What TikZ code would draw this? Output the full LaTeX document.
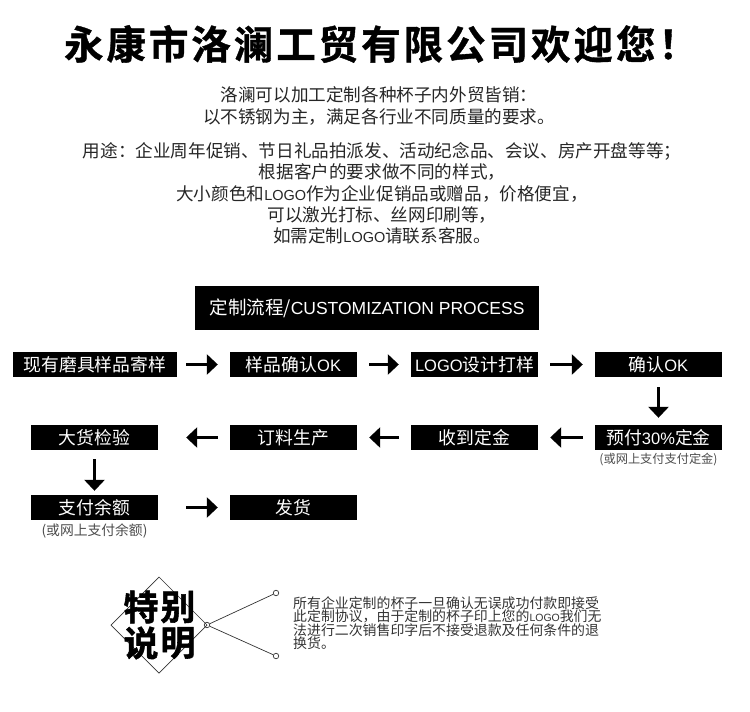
\documentclass[tikz,border=0pt]{standalone}
\usepackage{fontspec}
\setmainfont{Liberation Sans}
\newfontfamily\cjk{Noto Sans CJK SC}
\newfontfamily\cjktitle[LetterSpace=7.5,FakeBold=1]{Noto Sans CJK SC Bold}
\newfontfamily\cjkheavy[FakeBold=1.5]{Noto Sans CJK SC Bold}
\newfontfamily\lat{Liberation Sans}
\newcommand{\bodylat}[1]{{\lat\fontsize{14.5}{21}\selectfont #1}}
\newcommand{\boxlat}[1]{{\lat\fontsize{16.5}{17}\selectfont #1}}
\usetikzlibrary{arrows.meta}
\tikzset{
  stepbox/.style={fill=black,text=white,minimum height=25pt,inner sep=0pt,font=\cjk\fontsize{17.8}{17.8}\selectfont},
  bodytext/.style={text=black!85,inner sep=0pt,font=\cjk\fontsize{17.6}{21.2}\selectfont,align=center},
  notetext/.style={text=black!70,inner sep=0pt},
  flow/.style={line width=3pt,-{Triangle[length=11pt,width=20pt]}},
  thinline/.style={line width=0.7pt,draw=black!80},
  dot/.style={circle,draw=black!80,fill=white,line width=0.7pt,minimum size=5.5pt,inner sep=0pt},
  bigchar/.style={inner sep=0pt,font=\cjkheavy\fontsize{35}{35}\selectfont}
}
\begin{document}
\begin{tikzpicture}[x=1pt,y=-1pt]
\useasboundingbox (0,0) rectangle (750,712);
\node[inner sep=0pt,font=\cjktitle\fontsize{39.5}{39.5}\selectfont] (title) at (381,44) {永康市洛澜工贸有限公司欢迎您！};
\node[bodytext] (intro) at (379,106) {洛澜可以加工定制各种杯子内外贸皆销：\\以不锈钢为主，满足各行业不同质量的要求。};
\node[bodytext,anchor=north] (usage) at (382,142.5) {用途：企业周年促销、节日礼品拍派发、活动纪念品、会议、房产开盘等等；\\根据客户的要求做不同的样式，\\大小颜色和\bodylat{LOGO}作为企业促销品或赠品，价格便宜，\\可以激光打标、丝网印刷等，\\如需定制\bodylat{LOGO}请联系客服。};
\node[fill=black,text=white,minimum width=344pt,minimum height=44pt,inner sep=0pt,font=\cjk\fontsize{18.5}{18}\selectfont] (head) at (367,308) {定制流程/{\lat\fontsize{17.5}{18}\selectfont CUSTOMIZATION PROCESS}};
\node[stepbox,minimum width=164pt] (a1) at (95,364.5) {现有磨具样品寄样};
\node[stepbox,minimum width=127pt] (a2) at (293.5,364.5) {样品确认\boxlat{OK}};
\node[stepbox,minimum width=127pt] (a3) at (474.5,364.5) {\boxlat{LOGO}设计打样};
\node[stepbox,minimum width=127pt] (a4) at (658.5,364.5) {确认\boxlat{OK}};
\node[stepbox,minimum width=127pt] (b4) at (658.5,437.5) {预付\boxlat{30\%}定金};
\node[stepbox,minimum width=127pt] (b3) at (474.5,437.5) {收到定金};
\node[stepbox,minimum width=127pt] (b2) at (293.5,437.5) {订料生产};
\node[stepbox,minimum width=127pt] (b1) at (94.5,437.5) {大货检验};
\node[stepbox,minimum width=127pt] (c1) at (94.5,507.5) {支付余额};
\node[stepbox,minimum width=127pt] (c2) at (293.5,507.5) {发货};
\node[notetext,font=\cjk\fontsize{12.2}{13}\selectfont] (n1) at (658.5,460) {(或网上支付支付定金)};
\node[notetext,font=\cjk\fontsize{13.8}{14}\selectfont] (n2) at (94.5,531) {(或网上支付余额)};
\draw[flow,shorten <=9pt,shorten >=12pt] (a1.east) -- (a2.west);
\draw[flow,shorten <=12pt,shorten >=12pt] (a2.east) -- (a3.west);
\draw[flow,shorten <=12pt,shorten >=12pt] (a3.east) -- (a4.west);
\draw[flow,shorten <=10pt,shorten >=7pt] (a4.south) -- (b4.north);
\draw[flow,shorten <=12pt,shorten >=12pt] (b4.west) -- (b3.east);
\draw[flow,shorten <=12pt,shorten >=12pt] (b3.west) -- (b2.east);
\draw[flow,shorten <=12pt,shorten >=28pt] (b2.west) -- (b1.east);
\draw[flow,shorten <=9pt,shorten >=4pt] (b1.south) -- (c1.north);
\draw[flow,shorten <=28pt,shorten >=12pt] (c1.east) -- (c2.west);
\coordinate (dt) at (159,577);
\coordinate (dl) at (111,625);
\coordinate (db) at (159,673);
\node[dot] (hub) at (207,625) {};
\node[dot] (up) at (276,593) {};
\node[dot] (down) at (276,656) {};
\draw[thinline] (dt) -- (hub.center) -- (db) -- (dl) -- cycle;
\draw[thinline] (hub) -- (up);
\draw[thinline] (hub) -- (down);
\node[bigchar] (s1) at (141,607) {特};
\node[bigchar] (s2) at (178,607) {别};
\node[bigchar] (s3) at (141,643) {说};
\node[bigchar] (s4) at (178,643) {明};
\node[anchor=north west,inner sep=0pt,text=black!80,align=left,font=\cjk\fontsize{13.9}{13.6}\selectfont] (note) at (293,596) {所有企业定制的杯子一旦确认无误成功付款即接受\\此定制协议，由于定制的杯子印上您的{\lat\fontsize{10.5}{13}\selectfont LOGO}我们无\\法进行二次销售印字后不接受退款及任何条件的退\\换货。};
\end{tikzpicture}
\end{document}
